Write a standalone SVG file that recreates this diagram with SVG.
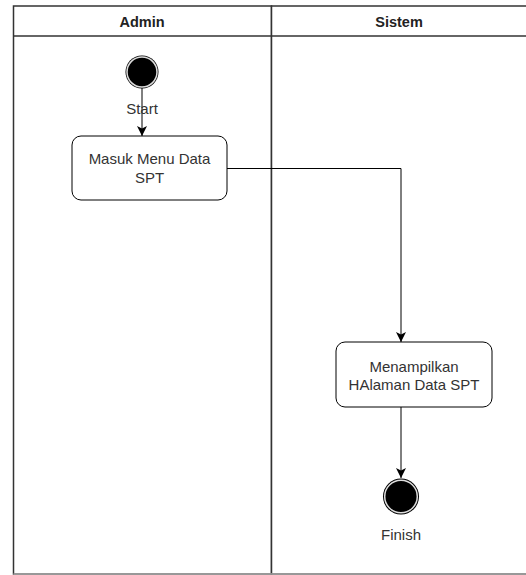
<svg xmlns="http://www.w3.org/2000/svg" width="526" height="575" viewBox="0 0 526 575">
<defs>
<marker id="arr" viewBox="0 0 10 10" refX="10" refY="5" markerWidth="10" markerHeight="10" markerUnits="userSpaceOnUse" orient="auto">
<path d="M0,0 L10,5 L0,10 L2.5,5 Z" fill="#000"/>
</marker>
</defs>
<style>
.lane{fill:#fff;stroke:#333;stroke-width:1.5}
.hdr{font-family:"Liberation Sans",Arial,sans-serif;font-size:14.5px;font-weight:bold;fill:#222;text-anchor:middle}
.lbl{font-family:"Liberation Sans",Arial,sans-serif;font-size:15px;fill:#333;text-anchor:middle}
.box{fill:#fff;stroke:#000;stroke-width:1}
.edge{fill:none;stroke:#000;stroke-width:1;marker-end:url(#arr)}
</style>
<rect width="526" height="575" fill="#fff"/>
<g id="pool">
<rect class="lane" x="13.5" y="6" width="258" height="568"/>
<rect class="lane" x="271.5" y="6" width="258" height="568"/>
<line x1="13.5" y1="36" x2="529.5" y2="36" stroke="#333" stroke-width="1.5"/>
<line x1="13.5" y1="574" x2="529.5" y2="574" stroke="#aaa" stroke-width="1.5"/>
<text class="hdr" x="142" y="26.5">Admin</text>
<text class="hdr" x="399" y="26.5">Sistem</text>
</g>
<g id="connectors">
<path class="edge" d="M142,88 L142,136"/>
<path class="edge" d="M227,168.5 L401,168.5 L401,342"/>
<path class="edge" d="M401,407 L401,478"/>
</g>
<g id="start">
<circle cx="142" cy="72" r="16.5" fill="#000"/>
<circle cx="142" cy="72" r="15" fill="none" stroke="#ddd" stroke-width="1.5"/>
<text class="lbl" x="142" y="114">Start</text>
</g>
<g id="masuk">
<rect class="box" x="72" y="136" width="155" height="64" rx="9"/>
<text class="lbl" x="149.5" y="164">Masuk Menu Data</text>
<text class="lbl" x="149.5" y="183">SPT</text>
</g>
<g id="menampilkan">
<rect class="box" x="336" y="342" width="156" height="65" rx="9"/>
<text class="lbl" x="414" y="371.5">Menampilkan</text>
<text class="lbl" x="414" y="390">HAlaman Data SPT</text>
</g>
<g id="finish">
<circle cx="401" cy="496.5" r="18" fill="#000"/>
<circle cx="401" cy="496.5" r="16.3" fill="none" stroke="#ddd" stroke-width="1.5"/>
<text class="lbl" x="401" y="540">Finish</text>
</g>
</svg>
